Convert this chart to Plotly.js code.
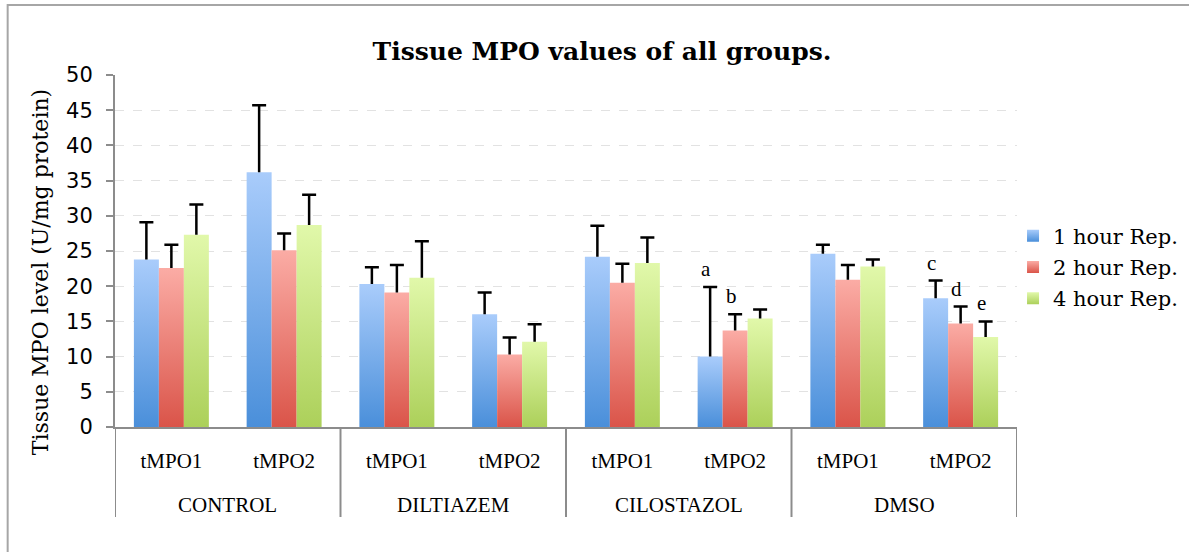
<!DOCTYPE html>
<html>
<head>
<meta charset="utf-8">
<script src="https://cdn.plot.ly/plotly-3.0.1.min.js"></script>
<style>
  html, body { margin: 0; padding: 0; background: #fff; }
  #chart { width: 1189px; height: 552px; }
</style>
</head>
<body>
<div id="chart"></div>
<script>
// ---- data ----
const groups = ['CONTROL', 'CONTROL', 'DILTIAZEM', 'DILTIAZEM', 'CILOSTAZOL', 'CILOSTAZOL', 'DMSO', 'DMSO'];
const subLabels = ['tMPO1', 'tMPO2', 'tMPO1', 'tMPO2', 'tMPO1', 'tMPO2', 'tMPO1', 'tMPO2'];
const seriesNames = ['1 hour Rep.', '2 hour Rep.', '4 hour Rep.'];

const oneHour    = [23.8, 36.2, 20.3, 16.0, 24.2, 10.0, 24.6, 18.3];
const oneHourSD  = [5.3, 9.5, 2.4, 3.1, 4.4, 9.9, 1.3, 2.5];
const twoHour    = [22.6, 25.1, 19.1, 10.3, 20.5, 13.7, 20.9, 14.7];
const twoHourSD  = [3.3, 2.4, 3.9, 2.4, 2.7, 2.3, 2.1, 2.4];
const fourHour   = [27.3, 28.7, 21.2, 12.1, 23.3, 15.4, 22.8, 12.8];
const fourHourSD = [4.3, 4.3, 5.2, 2.5, 3.6, 1.3, 1.0, 2.2];

// significance letters: [series index, category index, letter]
const sigSeries = [0, 1, 0, 1, 2];
const sigCat    = [5, 5, 7, 7, 7];
const sigText   = ['a', 'b', 'c', 'd', 'e'];

const yTitle = 'Tissue MPO level (U/mg protein)';
const chartTitle = 'Tissue MPO values of all groups.';

// ---- styling ----
const midColors = ['#77A9E8', '#EC8077', '#C7E27F'];
const gradTop   = ['#A9CCFB', '#FBACA5', '#E1F8AA'];
const gradBot   = ['#4A8FDA', '#DA5449', '#ACD05A'];
const axisGray = '#8c8c8c';

const values = [oneHour, twoHour, fourHour];
const sds = [oneHourSD, twoHourSD, fourHourSD];
const zeros = oneHour.map(() => 0);
const catIdx = subLabels.map((_, i) => i);

const traces = values.map((v, i) => ({
  type: 'bar',
  name: seriesNames[i],
  legendgroup: 'g' + i,
  x: catIdx,
  y: v,
  marker: { color: midColors[i], line: { width: 0 } },
  error_y: {
    type: 'data', symmetric: false, array: sds[i], arrayminus: zeros,
    color: '#000', thickness: 2.5, width: 7
  },
  hoverinfo: 'skip'
}));

const bargap = 0.335;
const nSeries = values.length;
const annotations = sigText.map((t, k) => {
  const s = sigSeries[k], c = sigCat[k];
  const bw = (1 - bargap) / nSeries;
  const xPos = c - (1 - bargap) / 2 + bw * (s + 0.5);
  return {
    x: xPos, y: values[s][c] + sds[s][c], xref: 'x', yref: 'y',
    text: t, showarrow: false, xanchor: 'center', yanchor: 'bottom',
    xshift: -4, yshift: 4,
    font: { family: 'Liberation Serif, serif', size: 21, color: '#000' }
  };
});

// group labels and divider positions derived from the groups array
const groupNames = [], groupStart = [], groupEnd = [];
groups.forEach((g, i) => {
  if (i === 0 || groups[i - 1] !== g) { groupNames.push(g); groupStart.push(i); groupEnd.push(i); }
  else groupEnd[groupEnd.length - 1] = i;
});
groupNames.forEach((g, k) => {
  annotations.push({
    x: (groupStart[k] + groupEnd[k]) / 2, y: -0.2216, xref: 'x', yref: 'paper',
    text: g, showarrow: false, xanchor: 'center', yanchor: 'middle',
    font: { family: 'Liberation Serif, serif', size: 21, color: '#000' }
  });
});
annotations.push({
  x: -0.0831, y: 0.44, xref: 'paper', yref: 'paper', textangle: -90,
  text: yTitle, showarrow: false, xanchor: 'center', yanchor: 'middle',
  font: { family: 'DejaVu Serif, serif', size: 22, color: '#000' }
});

const shapes = [{
  type: 'rect', xref: 'paper', yref: 'paper',
  x0: -0.119, x1: 1.2, y0: -0.36, y1: 1.199,
  line: { color: '#a6a6a6', width: 2 }, fillcolor: 'rgba(0,0,0,0)', layer: 'below'
}];
const dividerPos = groupStart.map(s => s - 0.5).concat([groupEnd[groupEnd.length - 1] + 0.5]);
dividerPos.forEach(xv => {
  shapes.push({
    type: 'line', xref: 'x', yref: 'paper', x0: xv, x1: xv, y0: -0.2557, y1: 0,
    line: { color: axisGray, width: 2 }
  });
});

const layout = {
  width: 1189, height: 552,
  margin: { l: 115, r: 172, t: 75, b: 125, autoexpand: false },
  paper_bgcolor: '#fff', plot_bgcolor: '#fff',
  barmode: 'group', bargap: bargap, bargroupgap: 0,
  title: {
    text: chartTitle,
    x: 0.5063, xref: 'container', xanchor: 'center',
    y: 1, yref: 'container', yanchor: 'top', pad: { t: 42 },
    font: { family: 'DejaVu Serif, serif', size: 25, color: '#000', weight: 'bold' }
  },
  showlegend: true,
  legend: {
    x: 0.9956, y: 0.4545, xanchor: 'left', yanchor: 'middle',
    font: { family: 'DejaVu Serif, serif', size: 21, color: '#000' },
    itemwidth: 30, tracegroupgap: 1, traceorder: 'grouped', bgcolor: 'rgba(0,0,0,0)'
  },
  xaxis: {
    range: [-0.5, subLabels.length - 0.5],
    tickmode: 'array', tickvals: catIdx, ticktext: subLabels,
    showline: true, linecolor: axisGray, linewidth: 2,
    ticks: 'outside', ticklen: 0, showgrid: false, zeroline: false,
    ticklabelstandoff: 14,
    tickfont: { family: 'Liberation Serif, serif', size: 21, color: '#000' }
  },
  yaxis: {
    range: [0, 50], dtick: 5, tick0: 0,
    ticks: 'outside', ticklen: 7, tickcolor: axisGray, tickwidth: 2,
    showline: true, linecolor: axisGray, linewidth: 2,
    showgrid: true, gridcolor: '#e2e2e2', griddash: 'dash', gridwidth: 1,
    zeroline: false, ticklabelstandoff: 9,
    tickfont: { family: 'DejaVu Sans, sans-serif', size: 21, color: '#000' }
  },
  annotations: annotations,
  shapes: shapes
};

function applyGradients(gd) {
  const svg = gd.querySelector('.main-svg');
  if (!svg) return;
  let defs = svg.querySelector('defs#bargrads');
  if (!defs) {
    defs = document.createElementNS('http://www.w3.org/2000/svg', 'defs');
    defs.id = 'bargrads';
    svg.insertBefore(defs, svg.firstChild);
    for (let i = 0; i < nSeries; i++) {
      const lg = document.createElementNS('http://www.w3.org/2000/svg', 'linearGradient');
      lg.id = 'bargrad' + i;
      lg.setAttribute('x1', '0'); lg.setAttribute('y1', '0');
      lg.setAttribute('x2', '0'); lg.setAttribute('y2', '1');
      [[0, gradTop[i]], [1, gradBot[i]]].forEach(([o, c]) => {
        const st = document.createElementNS('http://www.w3.org/2000/svg', 'stop');
        st.setAttribute('offset', o); st.setAttribute('stop-color', c);
        lg.appendChild(st);
      });
      defs.appendChild(lg);
    }
  }
  gd.querySelectorAll('.barlayer .trace.bars').forEach((tr, i) => {
    tr.querySelectorAll('.point path').forEach(p => { p.style.fill = 'url(#bargrad' + i + ')'; });
  });
  gd.querySelectorAll('.legend .traces').forEach((tr, i) => {
    tr.querySelectorAll('.legendpoints path').forEach(p => { p.style.fill = 'url(#bargrad' + i + ')'; p.style.stroke = 'none'; });
  });
  // plus-only error bars: drop the lower "shoe"
  gd.querySelectorAll('.errorbar path.yerror').forEach(p => {
    const d = p.getAttribute('d');
    const m = d.match(/^(M[^V]*V[-\d.e]+)/);
    if (m) p.setAttribute('d', m[1]);
  });
}

Plotly.newPlot('chart', traces, layout, { displayModeBar: false, staticPlot: true })
  .then(gd => applyGradients(gd));
</script>
</body>
</html>
